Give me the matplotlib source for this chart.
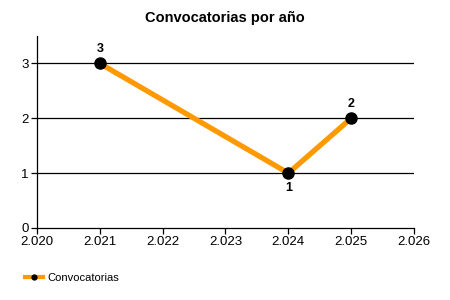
import matplotlib
matplotlib.use("Agg")
import matplotlib.pyplot as plt
from matplotlib.lines import Line2D

plt.rcParams['font.family'] = ['Liberation Sans', 'DejaVu Sans']

years = [2021, 2024, 2025]
counts = [3, 1, 2]
xticks = [2020, 2021, 2022, 2023, 2024, 2025, 2026]
xtick_labels = ["2.020", "2.021", "2.022", "2.023", "2.024", "2.025", "2.026"]
yticks = [0, 1, 2, 3]
label_pos = ["above", "below", "above"]

fig = plt.figure(figsize=(4.5, 3), dpi=100)
ax = fig.add_axes([0.0822, 0.24, 0.8378, 0.64])

for y in yticks[1:]:
    ax.axhline(y, color="black", lw=0.9, zorder=1)

ax.plot(years, counts, color="#FF9900", lw=3.8, zorder=2, solid_capstyle="butt")
ax.plot(years, counts, "o", color="black", ms=8, zorder=3)

for x, y, p in zip(years, counts, label_pos):
    off = 10.5 if p == "above" else -10.5
    ax.annotate(str(y), (x, y), xytext=(0, off), textcoords="offset points",
                ha="center", va="center", fontsize=9, fontweight="bold")

ax.set_xlim(2020, 2026)
ax.set_ylim(0, 3.5)
ax.set_xticks(xticks)
ax.set_xticklabels(xtick_labels)
ax.set_yticks(yticks)
ax.tick_params(axis="both", labelsize=9.5, length=4, width=0.9, direction="out", pad=2)
for s in ["top", "right"]:
    ax.spines[s].set_visible(False)
for s in ["left", "bottom"]:
    ax.spines[s].set_linewidth(0.9)

fig.text(0.5, 0.94, "Convocatorias por año", ha="center", va="center",
         fontsize=10.5, fontweight="bold")

handle = Line2D([0], [0], color="#FF9900", lw=3, marker="o", markersize=3.5,
                markerfacecolor="black", markeredgecolor="black")
fig.legend([handle], ["Convocatorias"], loc="center left",
           bbox_to_anchor=(0.055, 0.073), frameon=False, fontsize=8,
           handlelength=1.6, handletextpad=0.4, borderpad=0, borderaxespad=0)

fig.savefig("out.png", dpi=100)
